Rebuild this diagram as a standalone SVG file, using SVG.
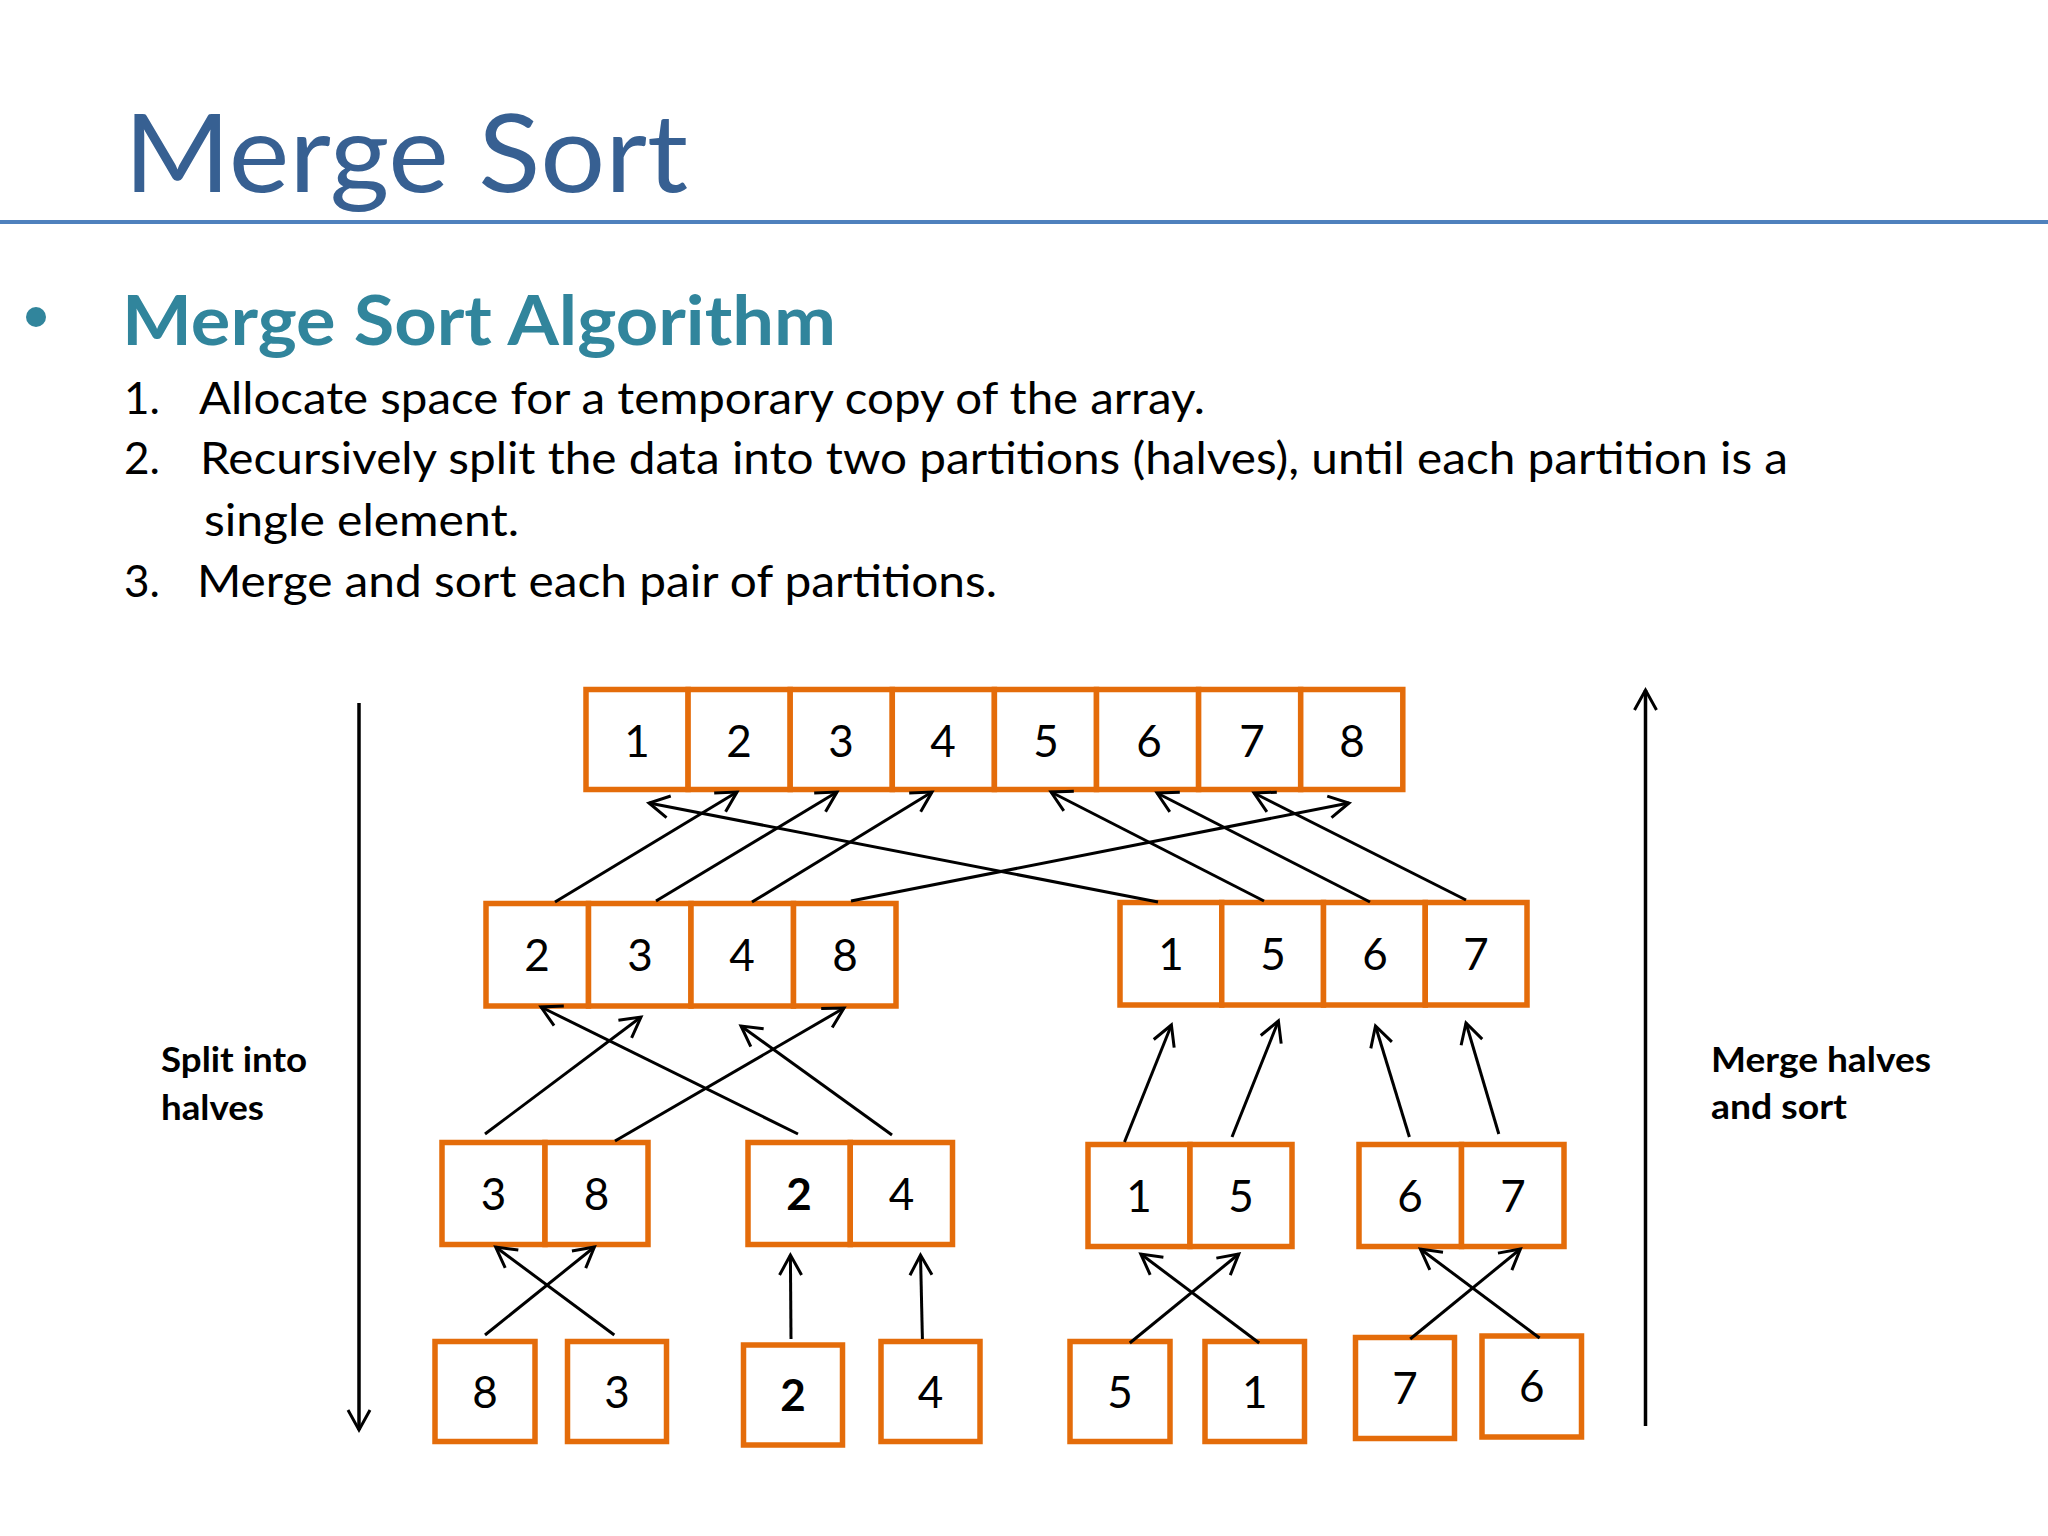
<svg xmlns="http://www.w3.org/2000/svg" width="2048" height="1536" viewBox="0 0 2048 1536">
<style>
.cell{fill:#ffffff;stroke:#E46C0A;stroke-width:5.5;stroke-linejoin:miter}
.num{font-family:Lato,"Open Sans","DejaVu Sans",sans-serif;font-size:44px;fill:#000;text-anchor:middle}
.bold{font-weight:bold}
.body{font-family:Lato,"Open Sans","DejaVu Sans",sans-serif;font-size:44px;fill:#000}
.lbl{font-family:Lato,"Open Sans","DejaVu Sans",sans-serif;font-size:35px;font-weight:bold;fill:#000}
.conn line{stroke:#000;stroke-width:3;marker-end:url(#arr)}
.side line{stroke:#000;stroke-width:3.5;marker-end:url(#arr)}
</style>
<defs>
<marker id="arr" markerUnits="userSpaceOnUse" viewBox="-24 -14 28 28" markerWidth="28" markerHeight="28" refX="0" refY="0" orient="auto" overflow="visible">
<path d="M -20 -11 L 0 0 L -20 11" fill="none" stroke="#000" stroke-width="3"/>
</marker>
</defs>
<rect x="0" y="0" width="2048" height="1536" fill="#ffffff"/>

<g id="title">
<text x="124" y="192" font-family="Lato,'Open Sans',sans-serif" font-size="109" fill="#376092" textLength="564" lengthAdjust="spacingAndGlyphs">Merge Sort</text>
<line x1="0" y1="222" x2="2048" y2="222" stroke="#4F81BD" stroke-width="4"/>
</g>

<g id="heading">
<circle cx="36" cy="317" r="10" fill="#31859C"/>
<text x="122" y="345" font-family="Lato,'Open Sans',sans-serif" font-size="68" font-weight="bold" fill="#31859C" textLength="714" lengthAdjust="spacingAndGlyphs">Merge Sort Algorithm</text>
</g>

<g id="steps">
<text class="body" x="124" y="414">1.</text>
<text class="body" x="199" y="414" textLength="1006" lengthAdjust="spacingAndGlyphs">Allocate space for a temporary copy of the array.</text>
<text class="body" x="124" y="474">2.</text>
<text class="body" x="200" y="474" textLength="1588" lengthAdjust="spacingAndGlyphs">Recursively split the data into two partitions (halves), until each partition is a</text>
<text class="body" x="204" y="536" textLength="315" lengthAdjust="spacingAndGlyphs">single element.</text>
<text class="body" x="124" y="597">3.</text>
<text class="body" x="197" y="597" textLength="800" lengthAdjust="spacingAndGlyphs">Merge and sort each pair of partitions.</text>
</g>

<g id="row1-12345678">
<rect class="cell" x="586" y="689.5" width="102.1" height="100"/>
<rect class="cell" x="688.1" y="689.5" width="102.1" height="100"/>
<rect class="cell" x="790.2" y="689.5" width="102.1" height="100"/>
<rect class="cell" x="892.3" y="689.5" width="102.1" height="100"/>
<rect class="cell" x="994.4" y="689.5" width="102.1" height="100"/>
<rect class="cell" x="1096.5" y="689.5" width="102.1" height="100"/>
<rect class="cell" x="1198.6" y="689.5" width="102.1" height="100"/>
<rect class="cell" x="1300.7" y="689.5" width="102.1" height="100"/>
<text class="num" x="637" y="757">1</text>
<text class="num" x="739" y="757">2</text>
<text class="num" x="841" y="757">3</text>
<text class="num" x="943" y="757">4</text>
<text class="num" x="1046" y="757">5</text>
<text class="num" x="1149" y="757">6</text>
<text class="num" x="1252" y="757">7</text>
<text class="num" x="1352" y="757">8</text>
</g>

<g id="row2-2348">
<rect class="cell" x="486" y="903.5" width="102.5" height="102.5"/>
<rect class="cell" x="588.5" y="903.5" width="102.5" height="102.5"/>
<rect class="cell" x="691" y="903.5" width="102.5" height="102.5"/>
<rect class="cell" x="793.5" y="903.5" width="102.5" height="102.5"/>
<text class="num" x="537" y="971">2</text>
<text class="num" x="640" y="971">3</text>
<text class="num" x="742" y="971">4</text>
<text class="num" x="845" y="971">8</text>
</g>

<g id="row2-1567">
<rect class="cell" x="1120" y="902.5" width="101.75" height="102.5"/>
<rect class="cell" x="1221.75" y="902.5" width="101.75" height="102.5"/>
<rect class="cell" x="1323.5" y="902.5" width="101.75" height="102.5"/>
<rect class="cell" x="1425.25" y="902.5" width="101.75" height="102.5"/>
<text class="num" x="1171" y="970">1</text>
<text class="num" x="1273" y="970">5</text>
<text class="num" x="1375" y="970">6</text>
<text class="num" x="1476" y="970">7</text>
</g>

<g id="row3-38">
<rect class="cell" x="442" y="1142.5" width="103" height="102"/>
<rect class="cell" x="545" y="1142.5" width="103" height="102"/>
<text class="num" x="493.5" y="1210">3</text>
<text class="num" x="596.5" y="1210">8</text>
</g>

<g id="row3-24">
<rect class="cell" x="748" y="1142.5" width="102.25" height="102"/>
<rect class="cell" x="850.25" y="1142.5" width="102.25" height="102"/>
<text class="num bold" x="799" y="1210">2</text>
<text class="num" x="901.5" y="1210">4</text>
</g>

<g id="row3-15">
<rect class="cell" x="1088" y="1144.5" width="102" height="102"/>
<rect class="cell" x="1190" y="1144.5" width="102" height="102"/>
<text class="num" x="1139" y="1212">1</text>
<text class="num" x="1241" y="1212">5</text>
</g>

<g id="row3-67">
<rect class="cell" x="1359" y="1144.5" width="102.5" height="102"/>
<rect class="cell" x="1461.5" y="1144.5" width="102.5" height="102"/>
<text class="num" x="1410" y="1212">6</text>
<text class="num" x="1513" y="1212">7</text>
</g>

<g id="leaf-8">
<rect class="cell" x="435" y="1341.5" width="100" height="100"/>
<text class="num" x="485" y="1408">8</text>
</g>
<g id="leaf-3">
<rect class="cell" x="567.5" y="1341.5" width="99" height="100"/>
<text class="num" x="617" y="1408">3</text>
</g>
<g id="leaf-2">
<rect class="cell" x="743.5" y="1345" width="99" height="100"/>
<text class="num bold" x="793" y="1411">2</text>
</g>
<g id="leaf-4">
<rect class="cell" x="881" y="1341.5" width="99" height="100"/>
<text class="num" x="930.5" y="1408">4</text>
</g>
<g id="leaf-5">
<rect class="cell" x="1070" y="1341.5" width="100" height="100"/>
<text class="num" x="1120" y="1408">5</text>
</g>
<g id="leaf-1">
<rect class="cell" x="1205" y="1341.5" width="99.5" height="100"/>
<text class="num" x="1254.7" y="1408">1</text>
</g>
<g id="leaf-7">
<rect class="cell" x="1355.5" y="1337.5" width="99" height="101"/>
<text class="num" x="1405" y="1404">7</text>
</g>
<g id="leaf-6">
<rect class="cell" x="1482" y="1336" width="99.5" height="101"/>
<text class="num" x="1531.7" y="1402">6</text>
</g>

<g id="label-split">
<text class="lbl" x="161" y="1072" textLength="146" lengthAdjust="spacingAndGlyphs">Split into</text>
<text class="lbl" x="161" y="1120" textLength="103" lengthAdjust="spacingAndGlyphs">halves</text>
</g>
<g id="label-merge">
<text class="lbl" x="1711" y="1072" textLength="220" lengthAdjust="spacingAndGlyphs">Merge halves</text>
<text class="lbl" x="1711" y="1119" textLength="136" lengthAdjust="spacingAndGlyphs">and sort</text>
</g>

<g id="connectors">
<g class="side">
<line x1="359" y1="703" x2="359" y2="1430"/>
<line x1="1645.5" y1="1426" x2="1645.5" y2="690"/>
</g>
<g class="conn">
<line x1="555" y1="902" x2="737" y2="792"/>
<line x1="656" y1="901" x2="837" y2="792"/>
<line x1="752" y1="902" x2="932" y2="792"/>
<line x1="851" y1="901" x2="1349" y2="803"/>
<line x1="1158" y1="902" x2="649" y2="803"/>
<line x1="1264" y1="901" x2="1051" y2="792"/>
<line x1="1370" y1="902" x2="1157" y2="793"/>
<line x1="1466" y1="900" x2="1254" y2="793"/>
<line x1="485" y1="1134" x2="641" y2="1017"/>
<line x1="615" y1="1141" x2="844" y2="1008"/>
<line x1="798" y1="1134" x2="541" y2="1007"/>
<line x1="892" y1="1135" x2="741" y2="1026"/>
<line x1="1124.5" y1="1142" x2="1171.4" y2="1025"/>
<line x1="1232" y1="1137" x2="1278.4" y2="1021"/>
<line x1="1409.4" y1="1137" x2="1375.5" y2="1026"/>
<line x1="1498.8" y1="1134" x2="1466" y2="1023"/>
<line x1="485" y1="1335" x2="594.4" y2="1247"/>
<line x1="614.3" y1="1335" x2="495.7" y2="1247"/>
<line x1="791" y1="1339" x2="790.4" y2="1255"/>
<line x1="922.4" y1="1339" x2="920.5" y2="1255"/>
<line x1="1129.8" y1="1343" x2="1238.8" y2="1254"/>
<line x1="1259.2" y1="1343" x2="1140.8" y2="1254"/>
<line x1="1410.2" y1="1339" x2="1520.4" y2="1249"/>
<line x1="1539.6" y1="1338" x2="1420.4" y2="1249"/>
</g>
</g>
</svg>
